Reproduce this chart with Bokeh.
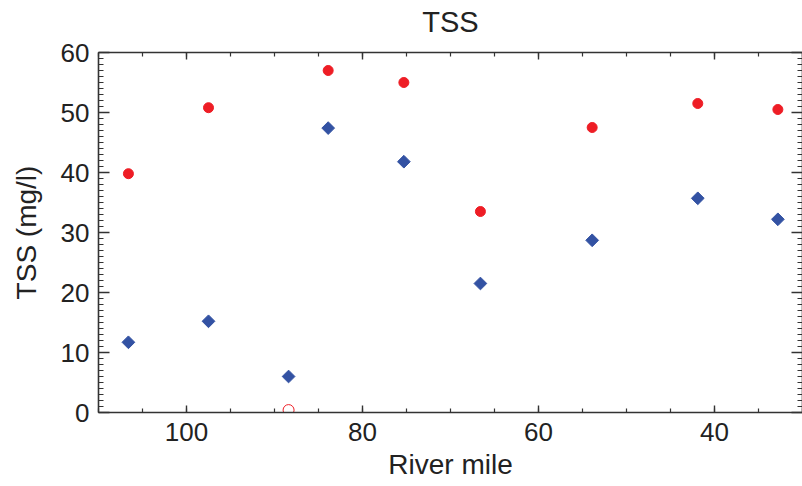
import math
from bokeh.plotting import figure
from bokeh.models import Range1d, LinearAxis, SingleIntervalTicker
from bokeh.embed import file_html
from bokeh.resources import INLINE

# ---- data ----
river_mile_red = [106.6, 97.5, 83.9, 75.3, 66.6, 53.9, 41.9, 32.8]
tss_red = [39.8, 50.8, 57.0, 55.0, 33.5, 47.5, 51.5, 50.5]

river_mile_blue = [106.6, 97.5, 88.4, 83.9, 75.3, 66.6, 53.9, 41.9, 32.8]
tss_blue = [11.7, 15.2, 6.0, 47.4, 41.8, 21.5, 28.7, 35.7, 32.2]

river_mile_open = [88.4]
tss_open = [0.4]

title_text = "TSS"
x_title = "River mile"
y_title = "TSS (mg/l)"

x_start, x_end = 110, 30
y_start, y_end = 0, 60
x_tick_interval = 20
y_tick_interval = 10

FONT = "Liberation Sans"
AX = "#333333"
TXT = "#222222"
RED = "#EE1D25"
BLUE = "#3352A3"

p = figure(width=802, height=486,
           x_range=Range1d(x_start, x_end), y_range=Range1d(y_start, y_end),
           output_backend="svg", toolbar_location=None,
           min_border_left=98, min_border_right=0,
           min_border_top=52, min_border_bottom=74)
p.grid.visible = False
p.outline_line_color = None
p.background_fill_color = "white"
p.border_fill_color = "white"


def style_axis(ax, is_x, show_labels):
    ax.ticker = SingleIntervalTicker(interval=x_tick_interval if is_x else y_tick_interval,
                                     num_minor_ticks=4 if is_x else 10)
    ax.axis_line_color = AX
    ax.axis_line_width = 1.6
    ax.major_tick_line_color = AX
    ax.minor_tick_line_color = AX
    ax.major_tick_line_width = 1.4
    ax.minor_tick_line_width = 1.2
    ax.major_tick_out = 0
    ax.minor_tick_out = 0
    ax.major_tick_in = 7 if is_x else 11
    ax.minor_tick_in = 4 if is_x else 5
    ax.axis_label_text_font = FONT
    ax.axis_label_text_font_style = "normal"
    ax.axis_label_text_color = TXT
    if show_labels:
        ax.major_label_text_font = FONT
        ax.major_label_text_font_size = "26px"
        ax.major_label_text_color = TXT
    else:
        # tick marks only: tick labels are not painted
        ax.major_label_text_font_size = "1px"
        ax.major_label_text_color = None
        ax.major_label_text_alpha = 0
        ax.major_label_standoff = 0


xa = p.xaxis[0]
ya = p.yaxis[0]
style_axis(xa, True, True)
style_axis(ya, False, True)
xa.axis_label = x_title
ya.axis_label = y_title
xa.axis_label_text_font_size = "28px"
ya.axis_label_text_font_size = "28px"
xa.major_label_standoff = 10
xa.axis_label_standoff = 5
ya.major_label_standoff = 9
ya.axis_label_standoff = 16

# top axis: ticks plus the chart title as its label
top = LinearAxis()
style_axis(top, True, False)
top.axis_label = title_text
top.axis_label_text_font_size = "29px"
top.axis_label_standoff = 15
p.add_layout(top, "above")

right = LinearAxis()
style_axis(right, False, False)
right.axis_label = None
p.add_layout(right, "right")

p.scatter(river_mile_red, tss_red, marker="circle", size=10,
          fill_color=RED, line_color=RED)
p.scatter(river_mile_blue, tss_blue, marker="square", size=9, angle=math.pi / 4,
          fill_color=BLUE, line_color=BLUE)
p.scatter(river_mile_open, tss_open, marker="circle", size=11,
          fill_color=None, line_color=RED, line_width=1)

open("out.html", "w").write(file_html(p, INLINE))
